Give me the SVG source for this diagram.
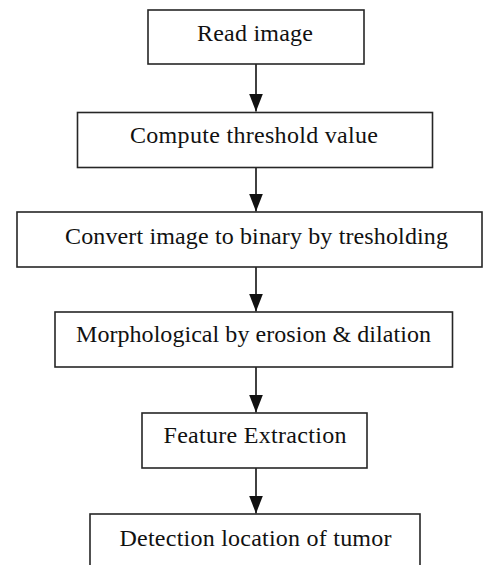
<svg xmlns="http://www.w3.org/2000/svg" width="484" height="565" viewBox="0 0 484 565">
<defs>
<style>
.box{fill:#fff;stroke:#262626;stroke-width:1.6}
.lbl{font-family:"Liberation Serif","Times New Roman",serif;font-size:24px;fill:#111;text-anchor:middle}
.conn{stroke:#111;stroke-width:1.6;fill:none}
</style>
<marker id="ah" markerUnits="userSpaceOnUse" markerWidth="18" markerHeight="14" refX="18" refY="7" orient="auto" viewBox="0 0 18 14">
<path d="M0,0 L18,7 L0,14 Z" fill="#111"/>
</marker>
</defs>
<rect width="484" height="565" fill="#fff"/>
<g id="connectors">
<line class="conn" x1="256" y1="64" x2="256" y2="111.5" marker-end="url(#ah)"/>
<line class="conn" x1="256" y1="168" x2="256" y2="211.5" marker-end="url(#ah)"/>
<line class="conn" x1="256" y1="267" x2="256" y2="311.5" marker-end="url(#ah)"/>
<line class="conn" x1="256" y1="367" x2="256" y2="412.5" marker-end="url(#ah)"/>
<line class="conn" x1="256" y1="468" x2="256" y2="513.5" marker-end="url(#ah)"/>
</g>
<g id="n1">
<rect class="box" x="148" y="10" width="216" height="54"/>
<text class="lbl" x="255" y="41" textLength="116">Read image</text>
</g>
<g id="n2">
<rect class="box" x="77.5" y="112.5" width="355" height="55"/>
<text class="lbl" x="254" y="143" textLength="248">Compute threshold value</text>
</g>
<g id="n3">
<rect class="box" x="17" y="212" width="465" height="55"/>
<text class="lbl" x="256.5" y="244" textLength="383">Convert image to binary by tresholding</text>
</g>
<g id="n4">
<rect class="box" x="55" y="312" width="397.5" height="55"/>
<text class="lbl" x="253.5" y="342" textLength="355">Morphological by erosion &amp; dilation</text>
</g>
<g id="n5">
<rect class="box" x="142" y="413" width="225" height="55"/>
<text class="lbl" x="255" y="443" textLength="183">Feature Extraction</text>
</g>
<g id="n6">
<rect class="box" x="90" y="514" width="330" height="70"/>
<text class="lbl" x="255.5" y="546" textLength="272">Detection location of tumor</text>
</g>
</svg>
